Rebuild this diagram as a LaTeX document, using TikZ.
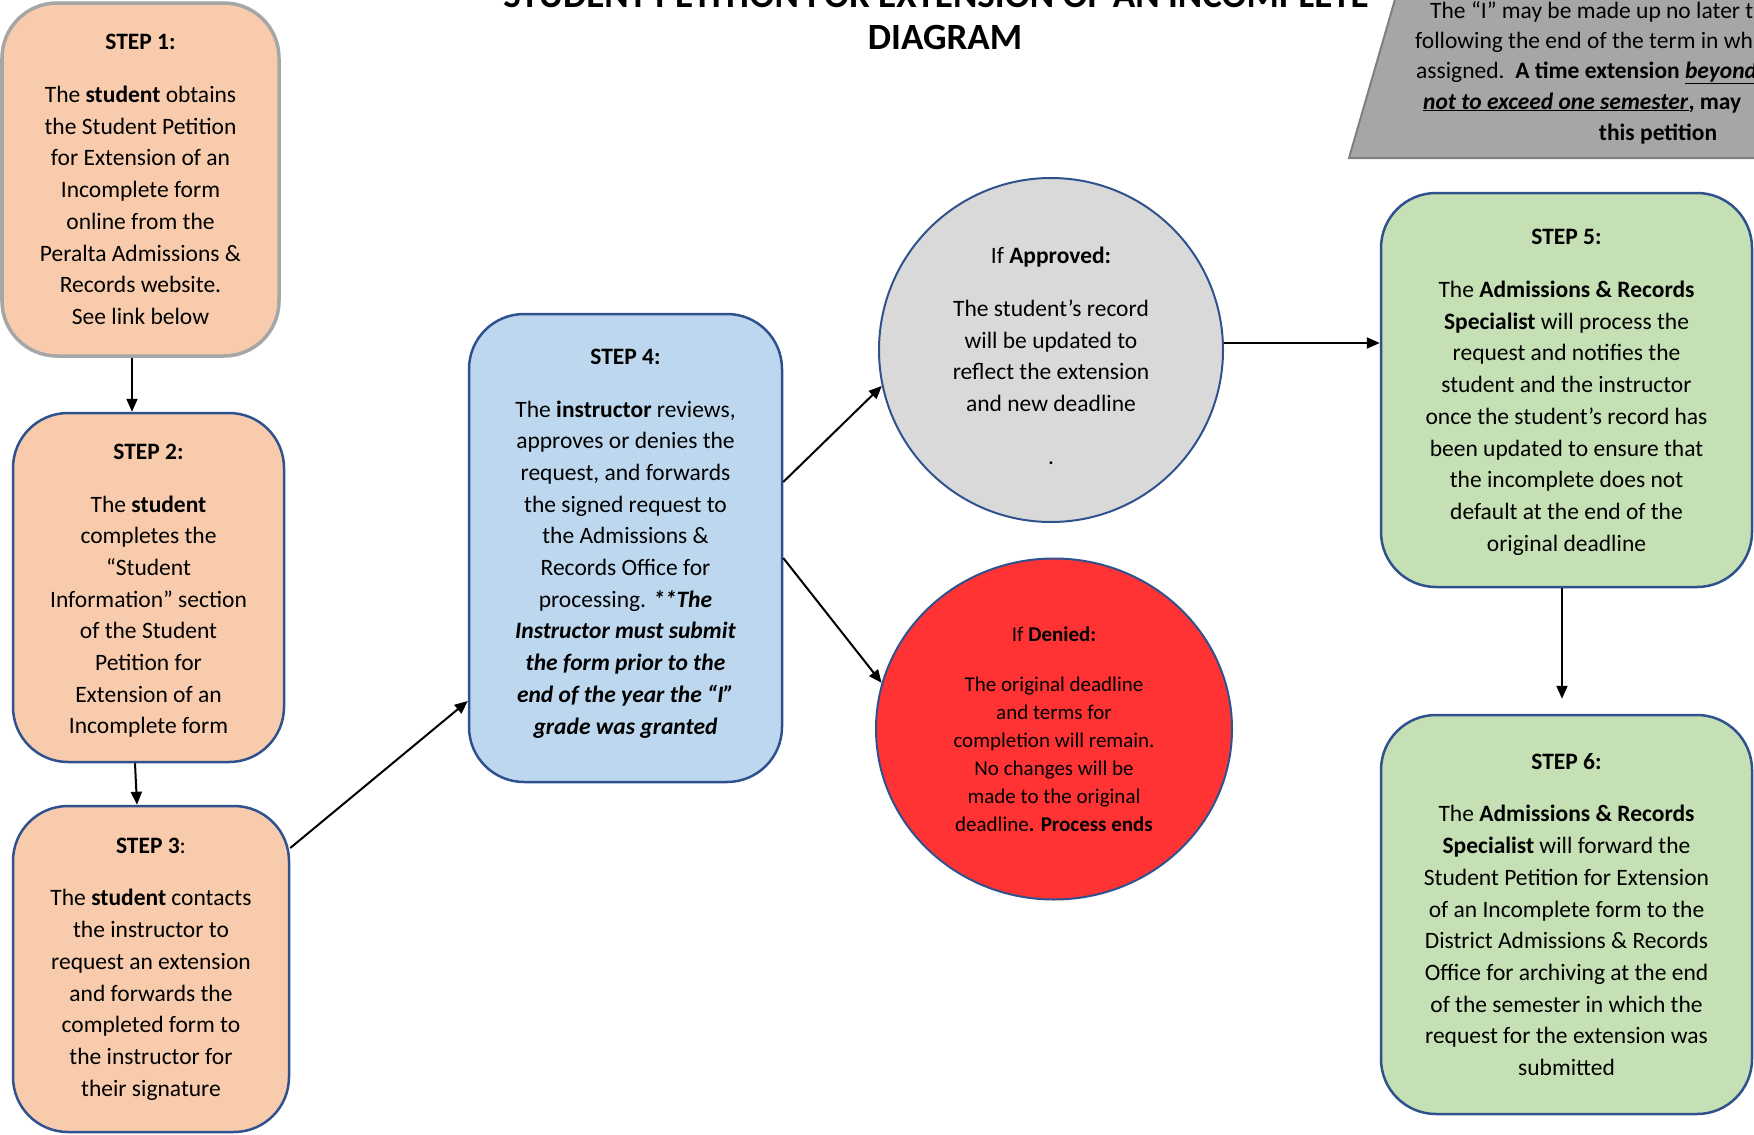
\documentclass[tikz,border=0pt]{standalone}
\usepackage{fontspec}
\setmainfont{Carlito}
\usetikzlibrary{arrows.meta,shapes.geometric}
\definecolor{peach}{RGB}{248,203,173}
\definecolor{lblue}{RGB}{189,215,238}
\definecolor{lgreen}{RGB}{197,224,180}
\definecolor{lgray}{RGB}{217,217,217}
\definecolor{redc}{RGB}{255,51,51}
\definecolor{bordblue}{RGB}{47,82,143}
\definecolor{bordgray}{RGB}{166,166,166}
\definecolor{notegray}{RGB}{166,166,166}
\definecolor{notebord}{RGB}{127,127,127}
\newcommand\bfnt{\fontsize{23.5}{31.7}\selectfont}
\newcommand\smfnt{\fontsize{21}{28}\selectfont}
\newcommand\ttlfnt{\fontsize{37}{42}\selectfont\bfseries}
\begin{document}
\begin{tikzpicture}[x=1pt,y=-1pt,
  stepbox/.style={draw=bordblue, line width=2.5pt, rounded corners=55pt, fill=peach,
    align=center, inner sep=0pt, font=\bfnt},
  roundnode/.style={draw=bordblue, line width=2pt, align=center, inner sep=0pt},
  arr/.style={draw=black, line width=2pt, -{Triangle[length=13pt,width=11pt]}},
  notetext/.style={inner sep=0pt, font=\bfnt}
]
\useasboundingbox (0,0) rectangle (1754,1135);

% title
\node[font=\ttlfnt, anchor=base, inner sep=0pt] (t1) at (936,7) {STUDENT PETITION FOR EXTENSION OF AN INCOMPLETE};
\node[font=\ttlfnt, anchor=base, inner sep=0pt] (t2) at (945,49) {DIAGRAM};

% note shape top right
\path[draw=notebord, fill=notegray, line width=2pt] (1396,-4) -- (1349,158) -- (1762,158) -- (1762,-4) -- cycle;
\node[notetext, anchor=base west] (g1) at (1430,18) {The “I” may be made up no later than one year};
\node[notetext, anchor=base west] (g2) at (1415,48) {following the end of the term in which it was};
\node[notetext, anchor=base west] (g3) at (1416,78) {assigned.\ \ \textbf{A time extension \underline{\textit{beyond one year,}}}};
\node[notetext, anchor=base west] (g4) at (1423,109) {\textbf{\underline{\textit{not to exceed one semester}}, may\hspace{14pt} be requested with}};
\node[notetext, anchor=base] (g5) at (1658,140) {\textbf{this petition}};

% steps
\node[stepbox, draw=bordgray, line width=3.5pt, minimum width=277pt, minimum height=353pt] (s1) at (140.5,179.5)
 {\textbf{STEP 1:}\\[21pt]
  The \textbf{student} obtains\\ the Student Petition\\ for Extension of an\\ Incomplete form\\ online from the\\ Peralta Admissions \&\\ Records website.\\ See link below};

\node[stepbox, minimum width=271pt, minimum height=349pt] (s2) at (148.5,587.5)
 {\rule{0pt}{22pt}\textbf{STEP 2:}\\[21pt]
  The \textbf{student}\\ completes the\\ “Student\\ Information” section\\ of the Student\\ Petition for\\ Extension of an\\ Incomplete form};

\node[stepbox, minimum width=276pt, minimum height=326pt] (s3) at (151,969)
 {\textbf{STEP 3}:\\[21pt]
  The \textbf{student} contacts\\ the instructor to\\ request an extension\\ and forwards the\\ completed form to\\ the instructor for\\ their signature};

\node[stepbox, fill=lblue, minimum width=313pt, minimum height=468pt] (s4) at (625.5,548)
 {\textbf{STEP 4:}\\[21pt]
  The \textbf{instructor} reviews,\\ approves or denies the\\ request, and forwards\\ the signed request to\\ the Admissions \&\\ Records Office for\\ processing. \textbf{\textit{**The}}\\
  \textbf{\textit{Instructor must submit}}\\ \textbf{\textit{the form prior to the}}\\ \textbf{\textit{end of the year the “I”}}\\ \textbf{\textit{grade was granted}}\rule[-13pt]{0pt}{1pt}};

\node[roundnode, circle, fill=lgray, minimum size=344pt, font=\bfnt] (ap) at (1051,350)
 {\rule{0pt}{28pt}If \textbf{Approved:}\\[21pt]
  The student’s record\\ will be updated to\\ reflect the extension\\ and new deadline\\[21pt] .};

\node[roundnode, ellipse, fill=redc, minimum width=356pt, minimum height=341pt, font=\smfnt] (dn) at (1054,729)
 {If \textbf{Denied:}\\[22pt]
  The original deadline\\ and terms for\\ completion will remain.\\ No changes will be\\ made to the original\\ deadline\textbf{. Process ends}};

\node[stepbox, fill=lgreen, minimum width=371pt, minimum height=394pt] (s5) at (1566.5,390)
 {\rule{0pt}{20pt}\textbf{STEP 5:}\\[21pt]
  The \textbf{Admissions \& Records}\\ \textbf{Specialist} will process the\\ request and notifies the\\ student and the instructor\\ once the student’s record has\\ been updated to ensure that\\ the incomplete does not\\ default at the end of the\\ original deadline};

\node[stepbox, fill=lgreen, minimum width=371pt, minimum height=399pt] (s6) at (1566.5,914.5)
 {\textbf{STEP 6:}\\[21pt]
  The \textbf{Admissions \& Records}\\ \textbf{Specialist} will forward the\\ Student Petition for Extension\\ of an Incomplete form to the\\ District Admissions \& Records\\ Office for archiving at the end\\ of the semester in which the\\ request for the extension was\\ submitted};

% connectors
\draw[arr] ([xshift=-8.5pt]s1.south) -- ([xshift=-16.5pt]s2.north);
\draw[arr] ([xshift=-13.5pt]s2.south) -- ([xshift=-14pt]s3.north);
\draw[arr] ([yshift=121pt]s3.east) -- ([yshift=-153pt]s4.west);
\draw[arr] ([yshift=66pt]s4.east) -- (ap.192);
\draw[arr] ([yshift=-10pt]s4.east) -- (dn.165);
\draw[arr] ([yshift=7pt]ap.east) -- ([yshift=47pt]s5.west);
\draw[arr] ([xshift=-4.5pt]s5.south) -- ([xshift=-4.5pt,yshift=15pt]s6.north);
\end{tikzpicture}
\end{document}
